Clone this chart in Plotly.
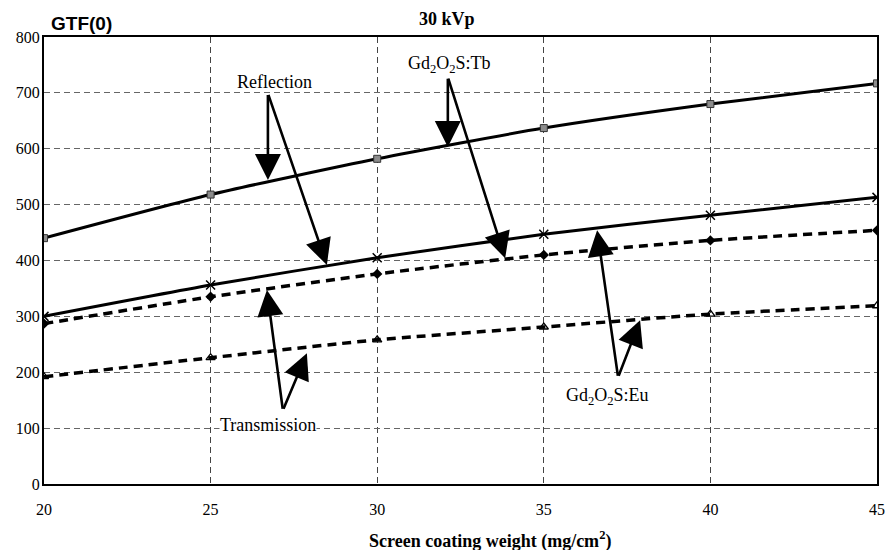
import plotly.graph_objects as go

weights = [20, 25, 30, 35, 40, 45]
tb_reflection = [440, 518, 582, 637, 680, 717]
x_series = [300, 356, 405, 447, 481, 513]
diamond_series = [287, 335, 376, 410, 436, 454]
triangle_series = [192, 226, 258, 281, 304, 319]

x_ticks = [20, 25, 30, 35, 40, 45]
y_ticks = [0, 100, 200, 300, 400, 500, 600, 700, 800]

serif = "Liberation Serif"

fig = go.Figure()
fig.add_trace(go.Scatter(x=weights, y=tb_reflection, mode="lines+markers",
                         line=dict(color="black", width=3, shape="spline", smoothing=0.6),
                         marker=dict(symbol="square", size=7, color="#8c8c8c",
                                     line=dict(color="#333", width=1))))
fig.add_trace(go.Scatter(x=weights, y=x_series, mode="lines+markers",
                         line=dict(color="black", width=3, shape="spline", smoothing=0.6),
                         marker=dict(symbol="x-thin", size=9, color="black",
                                     line=dict(color="black", width=1.5))))
fig.add_trace(go.Scatter(x=weights, y=diamond_series, mode="lines+markers",
                         line=dict(color="black", width=3.5, dash="9px,6px", shape="spline", smoothing=0.6),
                         marker=dict(symbol="diamond", size=8, color="black")))
fig.add_trace(go.Scatter(x=weights, y=triangle_series, mode="lines+markers",
                         line=dict(color="black", width=3.5, dash="9px,6px", shape="spline", smoothing=0.6),
                         marker=dict(symbol="triangle-up-open", size=8, color="black",
                                     line=dict(color="black", width=1.3))))

# arrows: (tail_x, tail_y, tip_x, tip_y)
arrows = [
    (26.72, 699, 26.72, 544),
    (26.72, 699, 28.49, 392),
    (32.12, 728, 32.12, 603),
    (32.12, 728, 33.84, 404),
    (27.17, 132, 26.69, 347),
    (27.17, 132, 27.89, 234),
    (37.23, 191, 36.60, 454),
    (37.23, 191, 37.89, 293),
]
for tx, ty, hx, hy in arrows:
    fig.add_annotation(x=hx, y=hy, ax=tx, ay=ty, axref="x", ayref="y", xref="x", yref="y",
                       text="", showarrow=True, arrowhead=2, arrowsize=2.0,
                       arrowwidth=2.6, arrowcolor="black", standoff=0)

labels = [
    ("Reflection", 26.93, 719, None),
    ("Gd<sub>2</sub>O<sub>2</sub>S:Tb", 32.18, 751, None),
    ("Transmission", 26.72, 106, "white"),
    ("Gd<sub>2</sub>O<sub>2</sub>S:Eu", 36.9, 156, None),
]
for t, x, y, bg in labels:
    fig.add_annotation(x=x, y=y, xref="x", yref="y", text=t, showarrow=False,
                       font=dict(family=serif, size=18, color="black"),
                       bgcolor=bg if bg else "rgba(0,0,0,0)", borderpad=0)

fig.add_annotation(x=(447 - 44) / 833, y=1.0, xref="paper", yref="paper", yanchor="bottom", yshift=6,
                   text="<b>30 kVp</b>", showarrow=False,
                   font=dict(family=serif, size=18, color="black"))
fig.add_annotation(x=(49 - 44) / 833, y=1.0, xref="paper", yref="paper", xanchor="left", yanchor="bottom",
                   text="<b>GTF(0)</b>", showarrow=False, yshift=1,
                   font=dict(family="Liberation Sans", size=19, color="black"))
fig.add_annotation(x=(490 - 44) / 833, y=0, xref="paper", yref="paper", yanchor="middle", yshift=-56,
                   text="<b>Screen coating weight (mg/cm<sup>2</sup>)</b>", showarrow=False,
                   font=dict(family=serif, size=18, color="black"))

fig.update_layout(
    width=885, height=550,
    margin=dict(l=44, r=8, t=37, b=66),
    paper_bgcolor="white", plot_bgcolor="white",
    showlegend=False,
    font=dict(family=serif, size=15, color="black"),
)
fig.update_xaxes(range=[20, 45], tickvals=x_ticks, ticks="", showline=True, linecolor="black",
                 linewidth=2, mirror=True, showgrid=True, gridcolor="#444", griddash="6px,4px",
                 gridwidth=1, zeroline=False, ticklabelstandoff=10, automargin=False,
                 tickfont=dict(family=serif, size=16, color="black"))
fig.update_yaxes(range=[0, 800], tickvals=y_ticks, ticks="", showline=True, linecolor="black",
                 linewidth=2, mirror=True, showgrid=True, gridcolor="#666", griddash="6px,4px",
                 gridwidth=1, zeroline=False, ticklabelstandoff=-1, automargin=False,
                 tickfont=dict(family=serif, size=16, color="black"))

fig.write_html("out.html", config={"displayModeBar": False},
               post_script="document.body.style.margin='0px';")
